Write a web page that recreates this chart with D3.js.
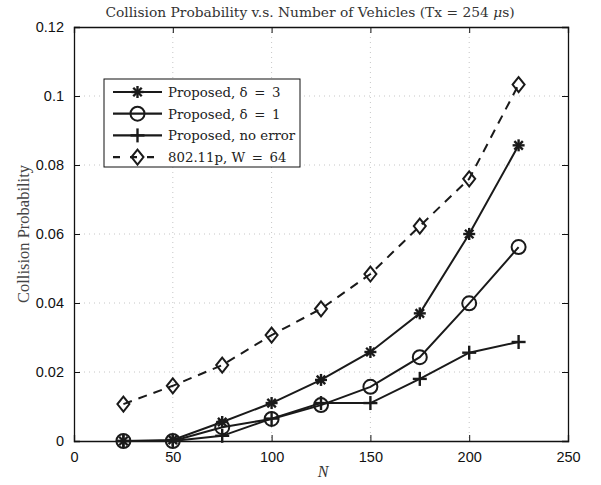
<!DOCTYPE html>
<html>
<head>
<meta charset="utf-8">
<script src="https://cdn.jsdelivr.net/npm/d3@7"></script>
<style>
  body { margin: 0; background: #fff; }
  svg { display: block; }
</style>
</head>
<body>
<svg id="chart"></svg>
<script>
// data
const nValues = [25, 50, 75, 100, 125, 150, 175, 200, 225]
const delta3 = [0, 0.0003, 0.0055, 0.011, 0.0177, 0.0258, 0.037, 0.06, 0.0857]
const delta1 = [0, 0, 0.004, 0.0064, 0.0104, 0.0157, 0.0243, 0.0399, 0.0562]
const noError = [0, 0, 0.0015, 0.0065, 0.011, 0.011, 0.018, 0.0256, 0.0287]
const w64 = [0.0107, 0.016, 0.022, 0.0307, 0.0383, 0.0484, 0.0623, 0.076, 0.1033]
const xTicks = [0, 50, 100, 150, 200, 250]
const yTicks = [0, 0.02, 0.04, 0.06, 0.08, 0.1, 0.12]
const seriesNames = ['Proposed, δ\u2002=\u20023', 'Proposed, δ\u2002=\u20021', 'Proposed, no error', '802.11p, W\u2002=\u200264']

const W = 601, H = 485
const m = { left: 74, right: 33, top: 27, bottom: 44 }
const iw = W - m.left - m.right
const ih = H - m.top - m.bottom
const serif = 'Liberation Serif, Times New Roman, serif'
const dserif = 'DejaVu Serif, serif'

const svg = d3.select('#chart').attr('width', W).attr('height', H)
const g = svg.append('g').attr('transform', `translate(${m.left},${m.top})`)

const x = d3.scaleLinear().domain([0, 250]).range([0, iw])
const y = d3.scaleLinear().domain([0, 0.12]).range([ih, 0])

// dotted grid
g.append('g').selectAll('line').data(xTicks.slice(1, -1)).enter().append('line')
  .attr('x1', d => x(d)).attr('x2', d => x(d)).attr('y1', 0).attr('y2', ih)
  .attr('stroke', '#b8b8b8').attr('stroke-width', 0.8).attr('stroke-dasharray', '1,4')
g.append('g').selectAll('line').data(yTicks.slice(1, -1)).enter().append('line')
  .attr('y1', d => y(d)).attr('y2', d => y(d)).attr('x1', 0).attr('x2', iw)
  .attr('stroke', '#b8b8b8').attr('stroke-width', 0.8).attr('stroke-dasharray', '1,4')

// axes with inward ticks on all four sides
const fmtY = d => d === 0 ? '0' : d3.format('.2~f')(d)
const axB = g.append('g').attr('transform', `translate(0,${ih})`)
  .call(d3.axisBottom(x).tickValues(xTicks).tickSize(-6).tickPadding(10))
const axL = g.append('g')
  .call(d3.axisLeft(y).tickValues(yTicks).tickFormat(fmtY).tickSize(-6).tickPadding(10))
g.append('g').call(d3.axisTop(x).tickValues(xTicks).tickSize(-6).tickFormat(''))
g.append('g').attr('transform', `translate(${iw},0)`)
  .call(d3.axisRight(y).tickValues(yTicks).tickSize(-6).tickFormat(''))
g.selectAll('.domain').attr('stroke', '#111').attr('stroke-width', 1.3)
g.selectAll('.tick line').attr('stroke', '#111').attr('stroke-width', 1)
g.selectAll('.tick text').attr('font-family', 'Liberation Sans, Arial, sans-serif')
  .attr('font-size', 14.5).attr('fill', '#111')
axB.selectAll('.tick text').attr('dy', '0.75em')

// titles
const title = svg.append('text').attr('x', 310).attr('y', 17).attr('text-anchor', 'middle')
  .attr('font-family', dserif).attr('font-size', 13.8).attr('fill', '#333')
title.append('tspan').text('Collision Probability v.s. Number of Vehicles (Tx = 254 ')
title.append('tspan').attr('font-style', 'italic').text('μ')
title.append('tspan').text('s)')
svg.append('text').attr('transform', `translate(29,${m.top + ih / 2}) rotate(-90)`)
  .attr('text-anchor', 'middle').attr('font-family', serif)
  .attr('font-size', 16.5).attr('fill', '#444').text('Collision Probability')
svg.append('text').attr('x', m.left + iw / 2 + 2).attr('y', 477).attr('text-anchor', 'middle')
  .attr('font-family', serif).attr('font-style', 'italic')
  .attr('font-size', 16).attr('fill', '#333').text('N')

// markers
const star = (s, cx, cy) => {
  const r = 6
  for (let a = 0; a < 4; a++) {
    const t = a * Math.PI / 4
    s.append('line').attr('x1', cx - r * Math.cos(t)).attr('y1', cy - r * Math.sin(t))
      .attr('x2', cx + r * Math.cos(t)).attr('y2', cy + r * Math.sin(t))
      .attr('stroke', '#1a1a1a').attr('stroke-width', 2.4)
  }
}
const circle = (s, cx, cy) => {
  s.append('circle').attr('cx', cx).attr('cy', cy).attr('r', 7)
    .attr('fill', 'none').attr('stroke', '#1a1a1a').attr('stroke-width', 2)
}
const plus = (s, cx, cy) => {
  const r = 7
  s.append('line').attr('x1', cx - r).attr('x2', cx + r).attr('y1', cy).attr('y2', cy)
    .attr('stroke', '#1a1a1a').attr('stroke-width', 2.4)
  s.append('line').attr('x1', cx).attr('x2', cx).attr('y1', cy - r).attr('y2', cy + r)
    .attr('stroke', '#1a1a1a').attr('stroke-width', 2.4)
}
const diamond = (s, cx, cy) => {
  const r = 7.5
  s.append('path').attr('d', `M${cx},${cy - r}L${cx + r * 0.8},${cy}L${cx},${cy + r}L${cx - r * 0.8},${cy}Z`)
    .attr('fill', 'none').attr('stroke', '#1a1a1a').attr('stroke-width', 2)
}

const series = [
  { vals: delta3, mark: star, dash: null },
  { vals: delta1, mark: circle, dash: null },
  { vals: noError, mark: plus, dash: null },
  { vals: w64, mark: diamond, dash: '9,7' }
]

const line = d3.line().x(d => x(d[0])).y(d => y(d[1]))
series.forEach(s => {
  const pts = nValues.map((n, i) => [n, s.vals[i]])
  g.append('path').datum(pts).attr('d', line).attr('fill', 'none')
    .attr('stroke', '#1a1a1a').attr('stroke-width', 2)
    .attr('stroke-dasharray', s.dash)
  const mg = g.append('g')
  pts.forEach(p => s.mark(mg, x(p[0]), y(p[1])))
})

// legend
const lg = svg.append('g').attr('transform', 'translate(104,79)')
lg.append('rect').attr('width', 196).attr('height', 88).attr('fill', '#fff')
  .attr('stroke', '#111').attr('stroke-width', 1)
series.forEach((s, i) => {
  const cy = 13 + i * 21.7
  lg.append('line').attr('x1', 9).attr('x2', 58).attr('y1', cy).attr('y2', cy)
    .attr('stroke', '#1a1a1a').attr('stroke-width', 2.2)
    .attr('stroke-dasharray', s.dash ? '7,10' : null)
  s.mark(lg, 33.5, cy)
  lg.append('text').attr('x', 64).attr('y', cy + 5)
    .attr('font-family', dserif).attr('font-size', 13.3).attr('fill', '#222')
    .text(seriesNames[i])
})
</script>
</body>
</html>
